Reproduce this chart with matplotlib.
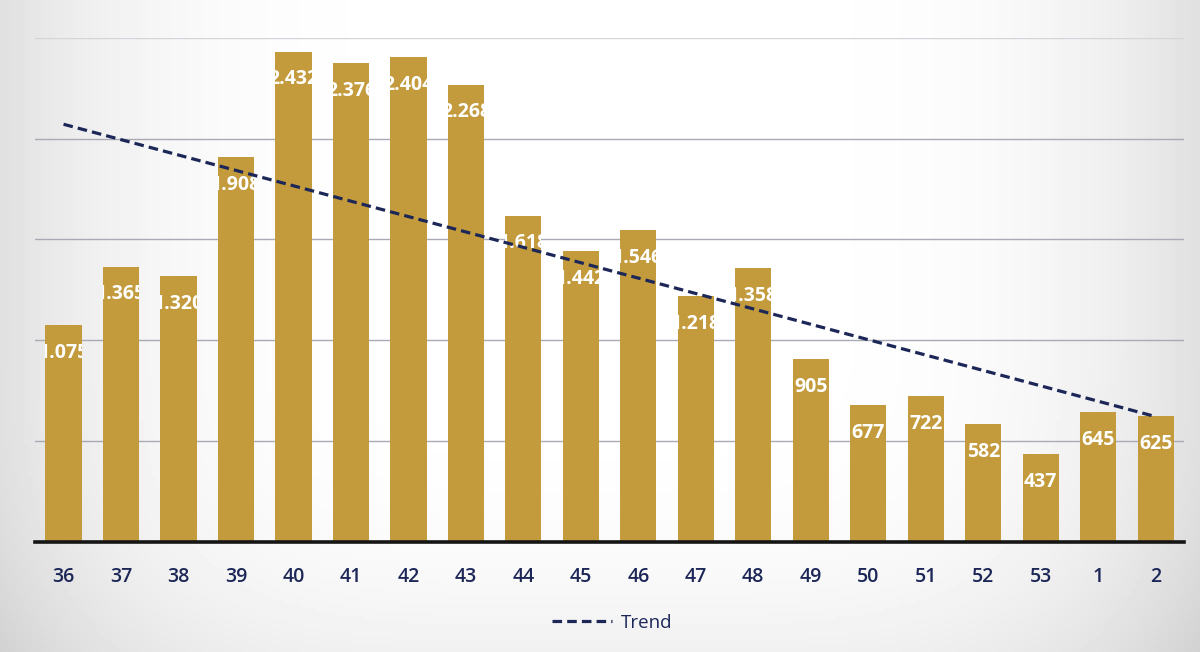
import numpy as np
import matplotlib.pyplot as plt

weeks = ["36", "37", "38", "39", "40", "41", "42", "43", "44", "45",
         "46", "47", "48", "49", "50", "51", "52", "53", "1", "2"]
values = [1075, 1365, 1320, 1908, 2432, 2376, 2404, 2268, 1618, 1442,
          1546, 1218, 1358, 905, 677, 722, 582, 437, 645, 625]

bar_col = "#C39B3C"
navy = "#1C2758"

fig = plt.figure(figsize=(12, 6.52), dpi=100)

# soft greyish vignette like the photographed slide
bg = fig.add_axes([0, 0, 1, 1], zorder=-10)
gx = np.linspace(-1, 1, 300)
gy = np.linspace(-1, 1, 160)
GX, GY = np.meshgrid(gx, gy)
shade = np.clip(0.55 * np.abs(GX) ** 4 + 0.25 * np.clip(GY, 0, None) ** 3, 0, 1)
bg.imshow(1 - 0.22 * shade, cmap="gray", vmin=0, vmax=1, aspect="auto",
          extent=[0, 1, 0, 1])
bg.axis("off")

ax = fig.add_axes([0.029, 0.169, 0.958, 0.773])
ax.patch.set_alpha(0)
x = np.arange(len(values))
bars = ax.bar(x, values, width=0.63, color=bar_col, zorder=2)

for b, v in zip(bars, values):
    lab = f"{v:,}".replace(",", ".")
    t = ax.text(b.get_x() + b.get_width() / 2, v - 138, lab, ha="center",
                va="center", color="white", fontsize=14, fontweight="bold",
                family="Open Sans", zorder=3)
    t.set_clip_on(True)
    t.set_clip_path(b)

# linear trend
k, c = np.polyfit(x, values, 1)
ax.plot(x, k * x + c, ls=(0, (3, 1.6)), color=navy, lw=2.3, zorder=4,
        label="Trend")

ax.set_xlim(-0.5, len(values) - 0.5)
ax.set_ylim(0, 2500)
ax.set_yticks([500, 1000, 1500, 2000])
ax.yaxis.grid(True, color="#A9AAB3", lw=1)
ax.axhline(2500, color="#D4D5DA", lw=1, zorder=0)
ax.set_axisbelow(True)
ax.tick_params(axis="y", left=False, labelleft=False)
ax.tick_params(axis="x", length=0, pad=18)
ax.set_xticks(x)
ax.set_xticklabels(weeks, fontsize=14, color=navy, family="Open Sans",
                   fontweight="semibold")
for s in ["top", "right", "left"]:
    ax.spines[s].set_visible(False)
ax.spines["bottom"].set_linewidth(2.6)
ax.spines["bottom"].set_color("#151515")

leg = fig.legend(loc="center", bbox_to_anchor=(0.51, 0.045), frameon=False,
                 handlelength=3.2, handletextpad=0.5,
                 prop={"family": "Open Sans", "size": 13.5})
for t in leg.get_texts():
    t.set_color(navy)

fig.savefig("out.png", dpi=100)
